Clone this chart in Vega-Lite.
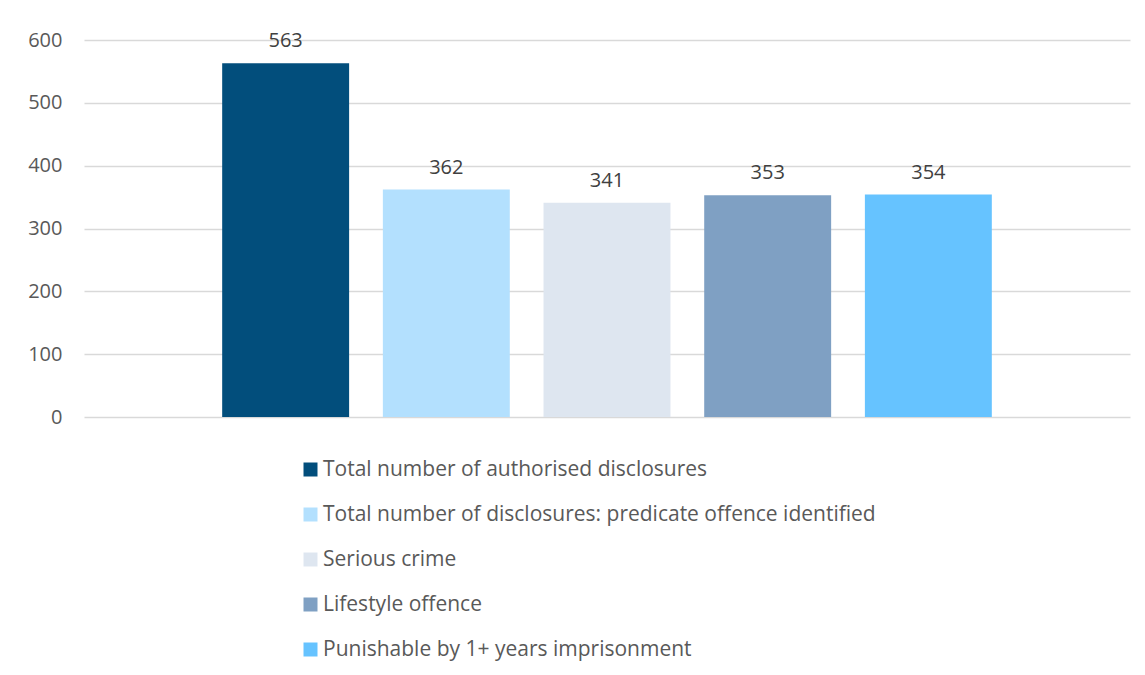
{
  "$schema": "https://vega.github.io/schema/vega-lite/v6.json",
  "autosize": {"type": "none"},
  "width": 1046,
  "height": 377,
  "padding": {"left": 84, "top": 40, "right": 15, "bottom": 258},
  "background": "white",
  "config": {"view": {"stroke": null}, "font": "Open Sans"},
  "data": {"values": [
    {"series": "Total number of authorised disclosures", "order": 1, "value": 563},
    {"series": "Total number of disclosures: predicate offence identified", "order": 2, "value": 362},
    {"series": "Serious crime", "order": 3, "value": 341},
    {"series": "Lifestyle offence", "order": 4, "value": 353},
    {"series": "Punishable by 1+ years imprisonment", "order": 5, "value": 354}
  ]},
  "layer": [
    {
      "mark": {"type": "bar"},
      "encoding": {
        "x": {"field": "series", "type": "nominal", "sort": {"field": "order"}, "axis": null,
              "scale": {"paddingInner": 0.21, "paddingOuter": 0.86}},
        "y": {"field": "value", "type": "quantitative",
              "scale": {"domain": [0, 600]},
              "axis": {"values": [0, 100, 200, 300, 400, 500, 600], "title": null, "domain": false, "ticks": false,
                       "labelFontSize": 20, "labelColor": "#595959", "labelPadding": 22,
                       "gridColor": "#d9d9d9", "gridWidth": 1.5}},
        "color": {"field": "series", "type": "nominal", "sort": {"field": "order"},
                  "scale": {"domain": ["Total number of authorised disclosures", "Total number of disclosures: predicate offence identified", "Serious crime", "Lifestyle offence", "Punishable by 1+ years imprisonment"],
                            "range": ["#024E7C", "#B3E0FE", "#DEE6F0", "#7FA0C3", "#66C3FF"]},
                  "legend": {"orient": "none", "legendX": 216, "legendY": 419, "title": null, "direction": "vertical",
                             "symbolType": "square", "symbolSize": 196, "symbolStrokeWidth": 0,
                             "labelFontSize": 21, "labelColor": "#595959", "labelLimit": 1000,
                             "rowPadding": 23, "labelOffset": 2, "padding": 0}}
      }
    },
    {
      "mark": {"type": "text", "baseline": "bottom", "dy": -12, "fontSize": 20, "color": "#404040"},
      "encoding": {
        "x": {"field": "series", "type": "nominal", "sort": {"field": "order"}},
        "y": {"field": "value", "type": "quantitative"},
        "text": {"field": "value", "type": "quantitative"}
      }
    }
  ]
}
